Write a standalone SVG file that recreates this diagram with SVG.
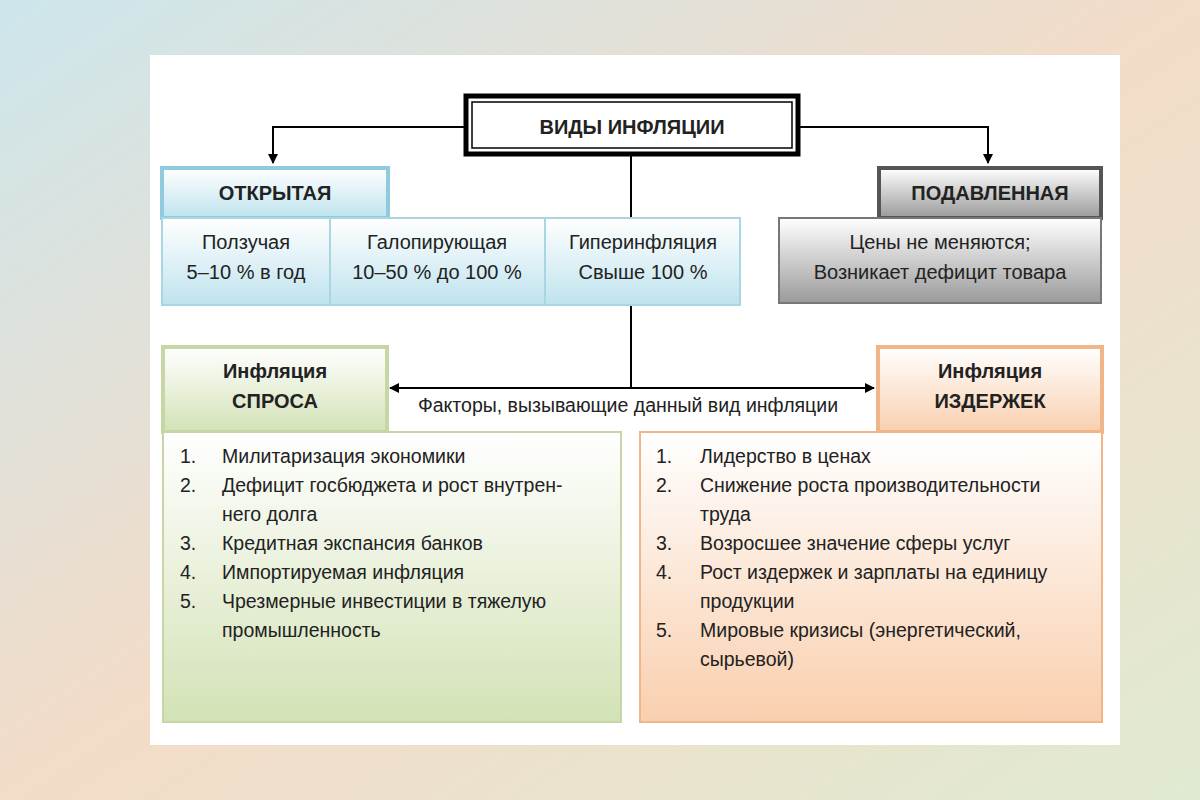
<svg xmlns="http://www.w3.org/2000/svg" width="1200" height="800" viewBox="0 0 1200 800">
<defs>
<linearGradient id="bg" x1="0" y1="0" x2="1" y2="1"><stop offset="0" stop-color="#cde6ec"/><stop offset="0.5" stop-color="#f3dcc8"/><stop offset="1" stop-color="#e0ead2"/></linearGradient>
<linearGradient id="blue" x1="0" y1="0" x2="0" y2="1"><stop offset="0" stop-color="#ffffff"/><stop offset="1" stop-color="#bfe3ee"/></linearGradient>
<linearGradient id="gray" x1="0" y1="0" x2="0" y2="1"><stop offset="0" stop-color="#ffffff"/><stop offset="1" stop-color="#9a9a9a"/></linearGradient>
<linearGradient id="green" x1="0" y1="0" x2="0" y2="1"><stop offset="0" stop-color="#ffffff"/><stop offset="1" stop-color="#d3e2b6"/></linearGradient>
<linearGradient id="orange" x1="0" y1="0" x2="0" y2="1"><stop offset="0" stop-color="#ffffff"/><stop offset="1" stop-color="#f9cfae"/></linearGradient>
<marker id="ar" viewBox="0 0 10 10" refX="9" refY="5" markerWidth="10" markerHeight="10" orient="auto" markerUnits="userSpaceOnUse"><path d="M0,0 L10,5 L0,10 z" fill="#000"/></marker>
<style>
text{font-family:"Liberation Sans",Arial,sans-serif;fill:#222;}
.b{font-weight:bold;font-size:20px;text-anchor:middle}
.n{font-size:20px;text-anchor:middle}
.l{font-size:19.5px}
.ln{stroke:#000;stroke-width:2;fill:none}
</style>
</defs>
<rect width="1200" height="800" fill="url(#bg)"/>
<rect x="150" y="55" width="970" height="690" fill="#fff"/>
<g id="connectors">
<path class="ln" d="M466,127 H273 V163" marker-end="url(#ar)"/>
<path class="ln" d="M798,127 H988 V163" marker-end="url(#ar)"/>
<path class="ln" d="M631,154 V218 M631,305 V388"/>
<path class="ln" d="M631,388 H390" marker-end="url(#ar)"/>
<path class="ln" d="M631,388 H874" marker-end="url(#ar)"/>
<text x="628" y="412" font-size="19.5" text-anchor="middle">Факторы, вызывающие данный вид инфляции</text>
</g>
<g id="title">
<rect x="466" y="96" width="332" height="58" fill="#fff" stroke="#000" stroke-width="5"/>
<rect x="472" y="102" width="320" height="46" fill="none" stroke="#000" stroke-width="1.5"/>
<text x="632" y="134" class="b">ВИДЫ ИНФЛЯЦИИ</text>
</g>
<g id="open">
<rect x="162" y="168" width="226" height="50" fill="url(#blue)" stroke="#8fcbdc" stroke-width="4"/>
<text x="275" y="200" class="b">ОТКРЫТАЯ</text>
<rect x="162" y="218" width="578" height="87" fill="url(#blue)" stroke="#a9d6e3" stroke-width="2"/>
<line x1="330" y1="218" x2="330" y2="305" stroke="#a9d6e3" stroke-width="2"/>
<line x1="545" y1="218" x2="545" y2="305" stroke="#a9d6e3" stroke-width="2"/>
<text x="246" y="249" class="n">Ползучая</text><text x="246" y="279" class="n">5–10 % в год</text>
<text x="437" y="249" class="n">Галопирующая</text><text x="437" y="279" class="n">10–50 % до 100 %</text>
<text x="643" y="249" class="n">Гиперинфляция</text><text x="643" y="279" class="n">Свыше 100 %</text>
</g>
<g id="suppressed">
<rect x="879" y="168" width="222" height="50" fill="url(#gray)" stroke="#555" stroke-width="4"/>
<text x="990" y="200" class="b">ПОДАВЛЕННАЯ</text>
<rect x="779" y="218" width="322" height="85" fill="url(#gray)" stroke="#777" stroke-width="2"/>
<text x="940" y="249" class="n">Цены не меняются;</text>
<text x="940" y="279" class="n">Возникает дефицит товара</text>
</g>
<g id="demand">
<rect x="163" y="347" width="224" height="85" fill="url(#green)" stroke="#c6d6a4" stroke-width="4"/>
<text x="275" y="378" class="b">Инфляция</text><text x="275" y="408" class="b">СПРОСА</text>
<rect x="163" y="432" width="458" height="290" fill="url(#green)" stroke="#c6d6a4" stroke-width="2"/>
<text x="180" y="463" class="l">1.</text><text x="222" y="463" class="l">Милитаризация экономики</text>
<text x="180" y="492" class="l">2.</text><text x="222" y="492" class="l">Дефицит госбюджета и рост внутрен-</text>
<text x="222" y="521" class="l">него долга</text>
<text x="180" y="550" class="l">3.</text><text x="222" y="550" class="l">Кредитная экспансия банков</text>
<text x="180" y="579" class="l">4.</text><text x="222" y="579" class="l">Импортируемая инфляция</text>
<text x="180" y="608" class="l">5.</text><text x="222" y="608" class="l">Чрезмерные инвестиции в тяжелую</text>
<text x="222" y="637" class="l">промышленность</text>
</g>
<g id="costs">
<rect x="878" y="347" width="224" height="85" fill="url(#orange)" stroke="#f1b58a" stroke-width="4"/>
<text x="990" y="378" class="b">Инфляция</text><text x="990" y="408" class="b">ИЗДЕРЖЕК</text>
<rect x="640" y="432" width="462" height="290" fill="url(#orange)" stroke="#f1b58a" stroke-width="2"/>
<text x="656" y="463" class="l">1.</text><text x="700" y="463" class="l">Лидерство в ценах</text>
<text x="656" y="492" class="l">2.</text><text x="700" y="492" class="l">Снижение роста производительности</text>
<text x="700" y="521" class="l">труда</text>
<text x="656" y="550" class="l">3.</text><text x="700" y="550" class="l">Возросшее значение сферы услуг</text>
<text x="656" y="579" class="l">4.</text><text x="700" y="579" class="l">Рост издержек и зарплаты на единицу</text>
<text x="700" y="608" class="l">продукции</text>
<text x="656" y="637" class="l">5.</text><text x="700" y="637" class="l">Мировые кризисы (энергетический,</text>
<text x="700" y="666" class="l">сырьевой)</text>
</g>
</svg>
